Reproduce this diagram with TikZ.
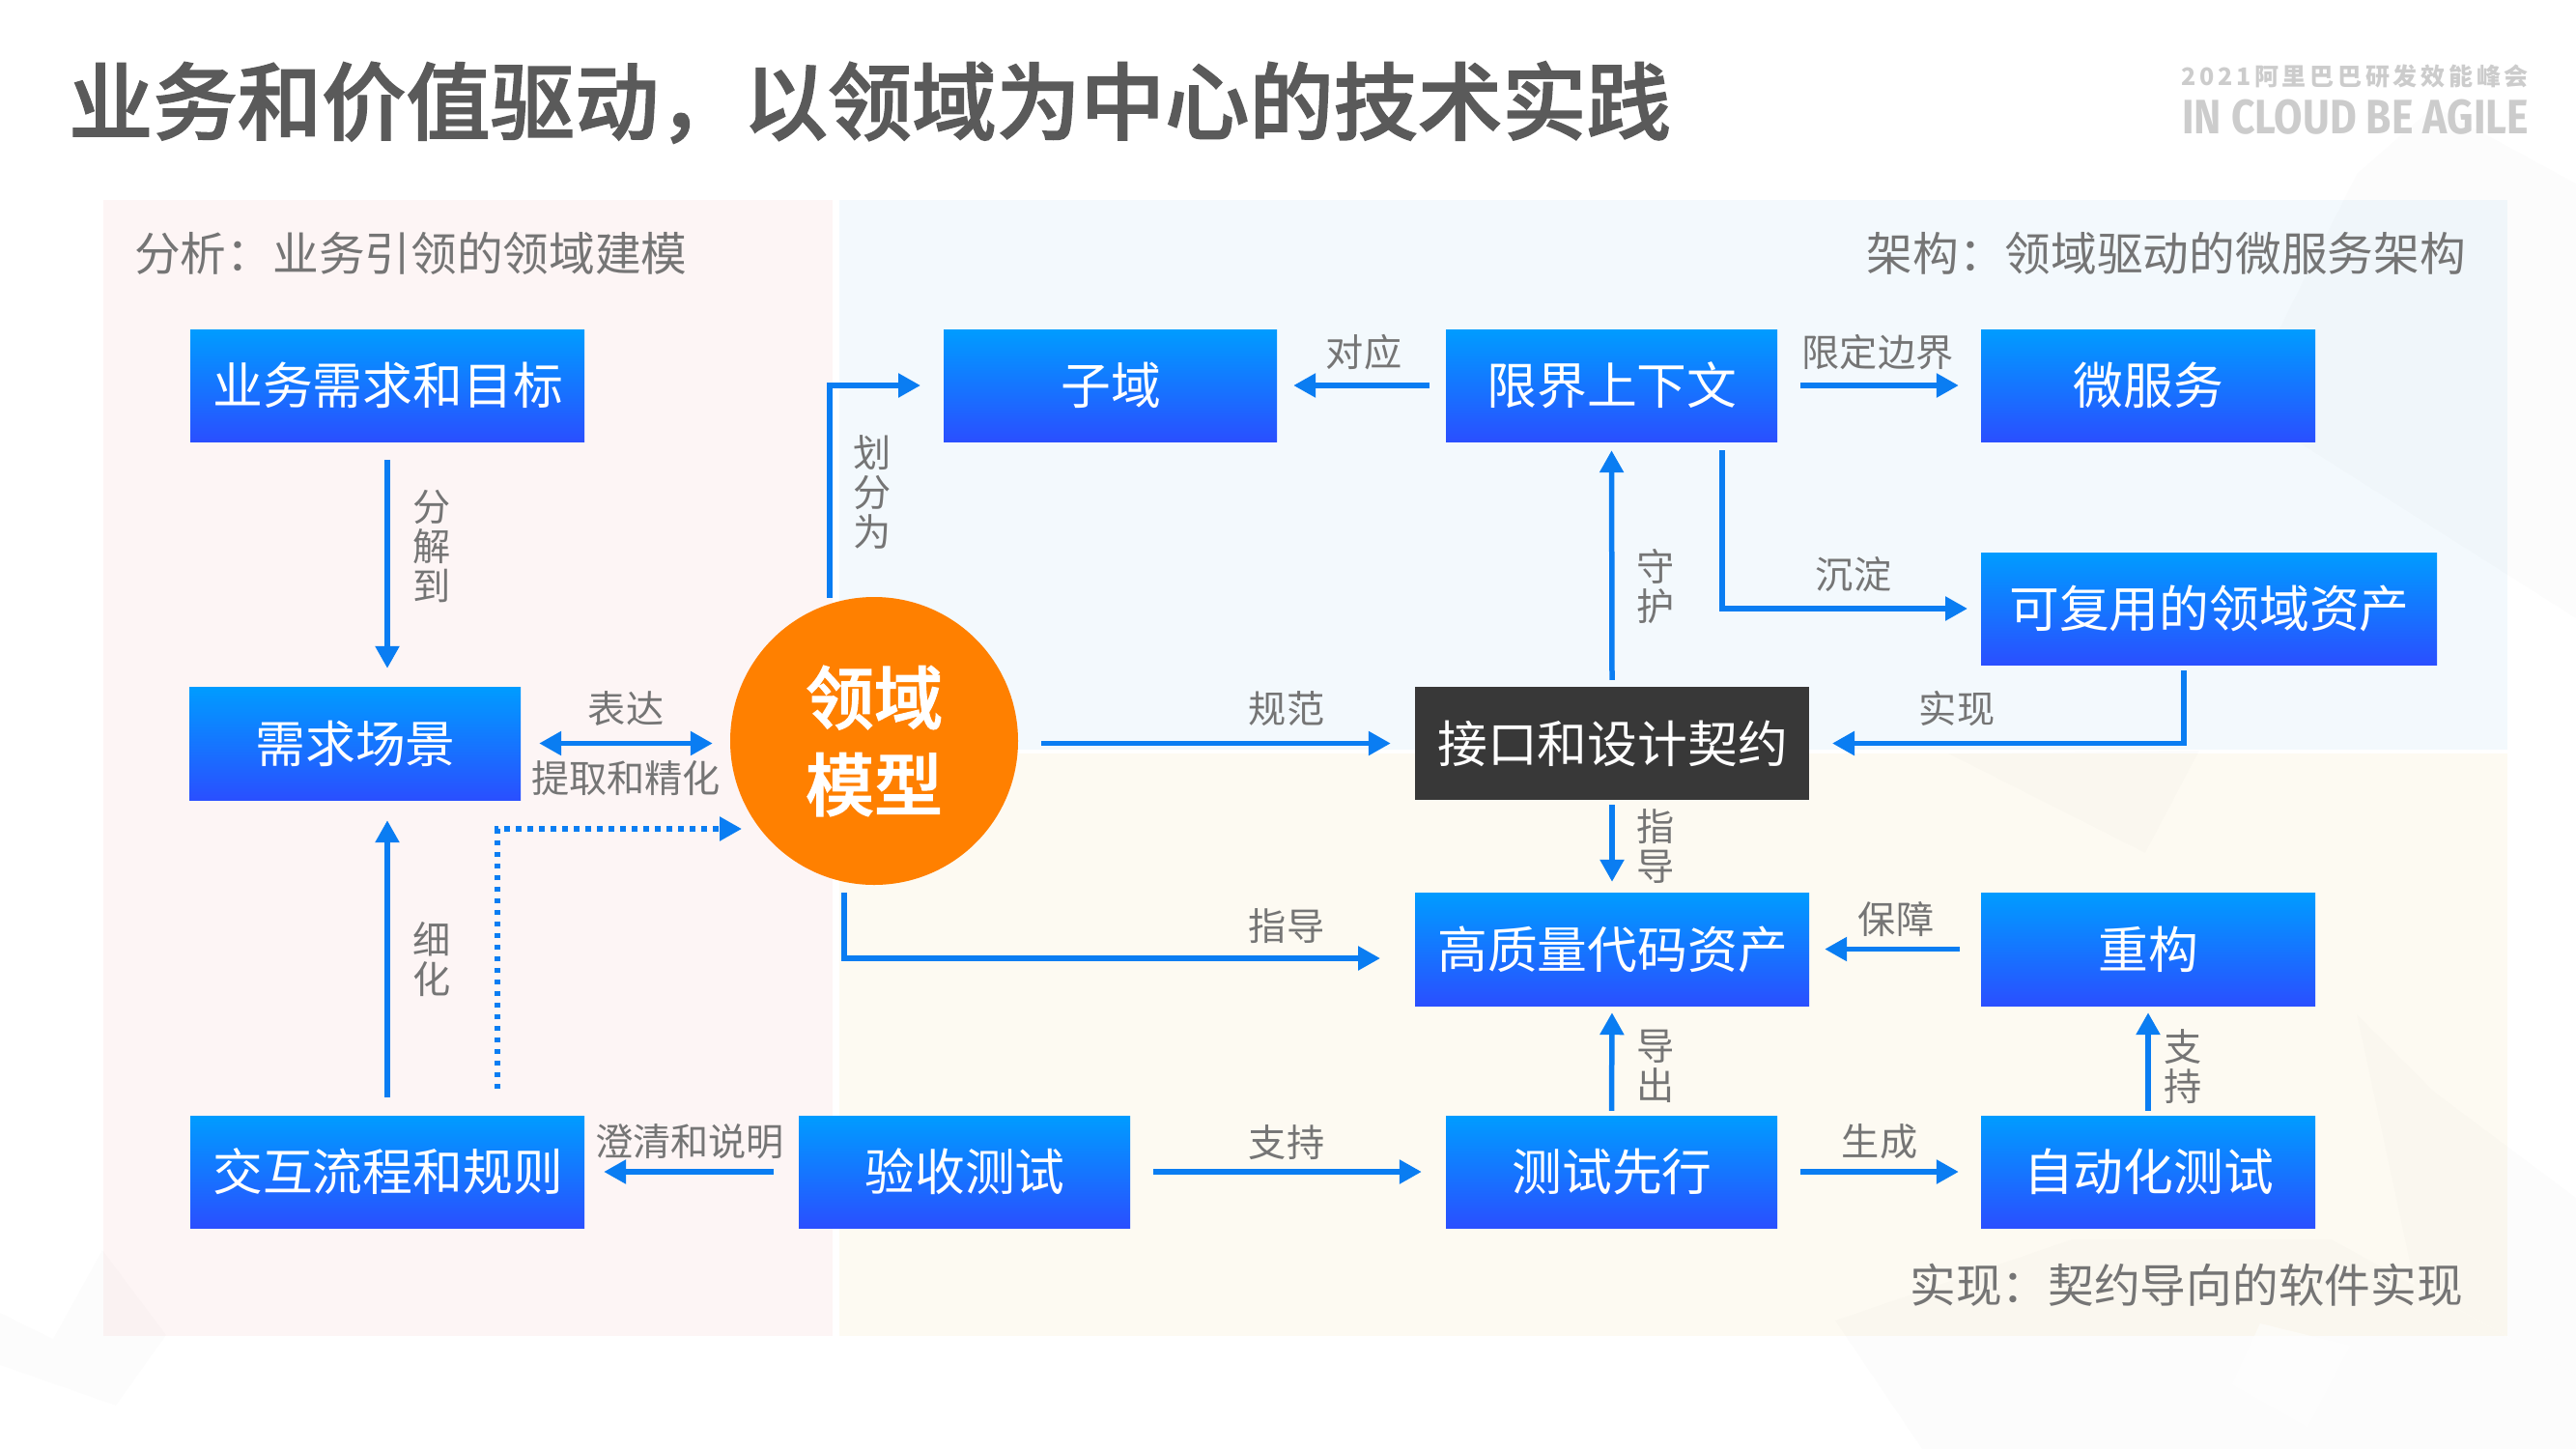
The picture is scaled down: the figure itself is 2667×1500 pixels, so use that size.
\documentclass[tikz,border=0pt]{standalone}
\usepackage{fontspec}
\setmainfont{Noto Sans CJK SC}
\newfontfamily\titlefont{Noto Sans CJK SC Medium}[FakeBold=1.6]
\newfontfamily\latinbold{Fira Sans}[UprightFont=* Bold]
\usetikzlibrary{arrows.meta,shapes.geometric}
\definecolor{arrowblue}{HTML}{0A7DF2}
\definecolor{labelgrey}{HTML}{757575}
\definecolor{titlegrey}{HTML}{5A5A5A}
\definecolor{boxtop}{HTML}{009CFF}
\definecolor{boxbot}{HTML}{2A4FFF}
\definecolor{pinkpanel}{HTML}{FDF5F5}
\definecolor{bluepanel}{HTML}{F3F9FD}
\definecolor{beigepanel}{HTML}{FDFAF2}
\definecolor{orangedisc}{HTML}{FF8000}
\definecolor{darkfill}{HTML}{383838}
\tikzset{
  x=1pt,y=-1pt,
  bluebox/.style={rectangle,inner sep=0pt,top color=boxtop,bottom color=boxbot,text=white,font=\fontsize{51.8}{56}\selectfont},
  darkbox/.style={rectangle,inner sep=0pt,fill=darkfill,text=white,font=\fontsize{51.8}{56}\selectfont},
  arr/.style={draw=arrowblue,line width=5.5pt,-{Triangle[length=23pt,width=24pt]}},
  darr/.style={draw=arrowblue,line width=5.5pt,{Triangle[length=23pt,width=24pt]}-{Triangle[length=23pt,width=24pt]}},
  dotarr/.style={draw=arrowblue,line width=5.5pt,dash pattern=on 5.5pt off 6.5pt,-{Triangle[length=23pt,width=24pt]}},
  edgelabel/.style={text=labelgrey,inner sep=0pt,align=center,yshift=-0.2pt,font=\fontsize{39.2}{41}\selectfont},
  panellabel/.style={text=labelgrey,inner sep=0pt,font=\fontsize{47.7}{52}\selectfont},
  facet/.style={fill=black,opacity=.012},
  lightfacet/.style={fill=white,opacity=.55}
}
\begin{document}
\begin{tikzpicture}
\useasboundingbox (0,0) rectangle (2667,1500);
\fill[white] (0,0) rectangle (2667,1500);
% panels
\fill[pinkpanel] (107,207) rectangle (862,1383);
\fill[bluepanel] (869,207) rectangle (2596,776);
\fill[beigepanel] (869,780) rectangle (2596,1383);
% faint background facets
\fill[facet] (2667,190) -- (2520,110) -- (2440,180) -- (2320,420) -- (2667,640) -- cycle;
\fill[facet] (2017,780) -- (2221,883) -- (2277,777) -- cycle;
\fill[facet] (1900,1367) -- (2145,1283) -- (2414,1283) -- (2667,1423) -- (2667,1500) -- (1990,1500) -- cycle;
\fill[facet] (2440,1050) -- (2520,1130) -- (2667,1240) -- (2667,1423) -- (2500,1330) -- cycle;
\fill[facet] (0,1359) -- (55,1386) -- (106,1294) -- (172,1382) -- (120,1455) -- (0,1413) -- cycle;
\fill[lightfacet] (2311,1433) -- (2340,1370) -- (2433,1393) -- (2389,1477) -- cycle;

\node[anchor=west,inner sep=0pt,text=titlegrey,font=\fontsize{87.3}{96}\titlefont] (title) at (71,106) {业务和价值驱动^^^^ff0c以领域为中心的技术实践};
\node[anchor=east,inner sep=0pt,text=black!20,font=\fontsize{25}{28}\selectfont\bfseries\addfontfeature{LetterSpace=15}] (logoa) at (2618,79) {2021阿里巴巴研发效能峰会};
\node[anchor=east,inner sep=0pt,text=black!20,font=\fontsize{50}{54}\latinbold,xscale=.853] (logob) at (2618,121) {IN CLOUD BE AGILE};

\node[panellabel,anchor=west] (pa) at (139,262) {分析^^^^ff1a业务引领的领域建模};
\node[panellabel,anchor=east] (pb) at (2553,262) {架构^^^^ff1a领域驱动的微服务架构};
\node[panellabel,anchor=east] (pc) at (2550,1330) {实现^^^^ff1a契约导向的软件实现};

% boxes
\newcommand{\bx}[1]{\raisebox{-3.5pt}{\hspace{1pt}#1}}
\node[bluebox,minimum width=408pt,minimum height=116pt] (goal) at (401,399) {\bx{业务需求和目标}};
\node[bluebox,minimum width=343pt,minimum height=117pt] (scene) at (367.5,769.5) {\bx{需求场景}};
\node[bluebox,minimum width=408pt,minimum height=116pt] (flow) at (401,1213) {\bx{交互流程和规则}};
\node[bluebox,minimum width=343pt,minimum height=116pt] (accept) at (998.5,1213) {\bx{验收测试}};
\node[bluebox,minimum width=345pt,minimum height=116pt] (sub) at (1149.5,399) {\bx{子域}};
\node[bluebox,minimum width=343pt,minimum height=116pt] (ctx) at (1668.5,399) {\bx{限界上下文}};
\node[bluebox,minimum width=346pt,minimum height=116pt] (ms) at (2224,399) {\bx{微服务}};
\node[bluebox,minimum width=472pt,minimum height=116pt] (asset) at (2287,630) {\bx{可复用的领域资产}};
\node[darkbox,minimum width=408pt,minimum height=117pt] (api) at (1669,769.5) {\bx{接口和设计契约}};
\node[bluebox,minimum width=408pt,minimum height=117pt] (code) at (1669,982.5) {\bx{高质量代码资产}};
\node[bluebox,minimum width=346pt,minimum height=117pt] (refactor) at (2224,982.5) {\bx{重构}};
\node[bluebox,minimum width=343pt,minimum height=116pt] (tdd) at (1668.5,1213) {\bx{测试先行}};
\node[bluebox,minimum width=346pt,minimum height=116pt] (auto) at (2224,1213) {\bx{自动化测试}};
\node[circle,fill=orangedisc,inner sep=0pt,minimum size=298pt,text=white,align=center,font=\fontsize{71}{90}\titlefont] (model) at (905,767) {\raisebox{-4.5pt}{领域}\\\raisebox{-4.5pt}{模型}};

% connectors
\draw[arr,shorten <=19pt,shorten >=19pt] (goal.south) -- (goal.south |- scene.north);
\draw[arr,shorten <=19pt,shorten >=21pt] (goal.south |- flow.north) -- (goal.south |- scene.south);
\draw[darr,shorten <=19pt,shorten >=18pt] (scene.east) -- (scene.east -| model.west);
\coordinate (dotstart) at (515,1127);
\coordinate (dotcorner) at (515,858);
\coordinate (dotend) at (768,858);
\draw[dotarr] (dotstart) -- (dotcorner) -- (dotend);
\coordinate (splitstart) at (859,619);
\coordinate (splitend) at (953,399);
\draw[arr] (splitstart) |- (splitend);
\draw[arr,shorten <=17pt,shorten >=17pt] (ctx.west) -- (sub.east);
\draw[arr,shorten <=24pt,shorten >=23pt] (ctx.east) -- (ms.west);
\draw[arr,shorten <=0pt,shorten >=9pt] (api.north) ++(0,-7) -- (ctx.south);
\coordinate (sinkstart) at (1783,466);
\coordinate (sinkend) at (2037,630);
\draw[arr] (sinkstart) |- (sinkend);
\coordinate (implstart) at (2261,694);
\coordinate (implend) at (1897,769.5);
\draw[arr] (implstart) |- (implend);
\draw[arr,shorten <=24pt,shorten >=25pt] (model.east |- scene.east) -- (api.west);
\draw[arr,shorten <=5pt,shorten >=11pt] (api.south) -- (code.north);
\coordinate (guidestart) at (874,924);
\coordinate (guideend) at (1429,992);
\draw[arr] (guidestart) |- (guideend);
\draw[arr,shorten <=22pt,shorten >=16pt] (refactor.west) -- (code.east);
\draw[arr,shorten <=5pt,shorten >=7pt] (tdd.north) -- (code.south);
\draw[arr,shorten <=5pt,shorten >=7pt] (auto.north) -- (refactor.south);
\draw[arr,shorten <=24pt,shorten >=25pt] (accept.east) -- (tdd.west);
\draw[arr,shorten <=24pt,shorten >=23pt] (tdd.east) -- (auto.west);
\draw[arr,shorten <=26pt,shorten >=20pt] (accept.west) -- (flow.east);

% labels
\node[edgelabel] (l1) at (447,565) {分\\解\\到};
\node[edgelabel] (l2) at (447,993) {细\\化};
\node[edgelabel] (l3) at (648,733) {表达};
\node[edgelabel] (l4) at (648,805) {提取和精化};
\node[edgelabel] (l5) at (903,509) {划\\分\\为};
\node[edgelabel] (l6) at (1412,364) {对应};
\node[edgelabel] (l7) at (1944,364) {限定边界};
\node[edgelabel] (l8) at (1919,594) {沉淀};
\node[edgelabel] (l9) at (1714,607) {守\\护};
\node[edgelabel] (l10) at (1332,733) {规范};
\node[edgelabel] (l11) at (2026,733) {实现};
\node[edgelabel] (l12) at (1714,876) {指\\导};
\node[edgelabel] (l13) at (1332,958) {指导};
\node[edgelabel] (l14) at (1963,951) {保障};
\node[edgelabel] (l15) at (1714,1104) {导\\出};
\node[edgelabel] (l16) at (2260,1104) {支\\持};
\node[edgelabel] (l17) at (714,1182) {澄清和说明};
\node[edgelabel] (l18) at (1332,1182) {支持};
\node[edgelabel] (l19) at (1946,1182) {生成};
\end{tikzpicture}
\end{document}
